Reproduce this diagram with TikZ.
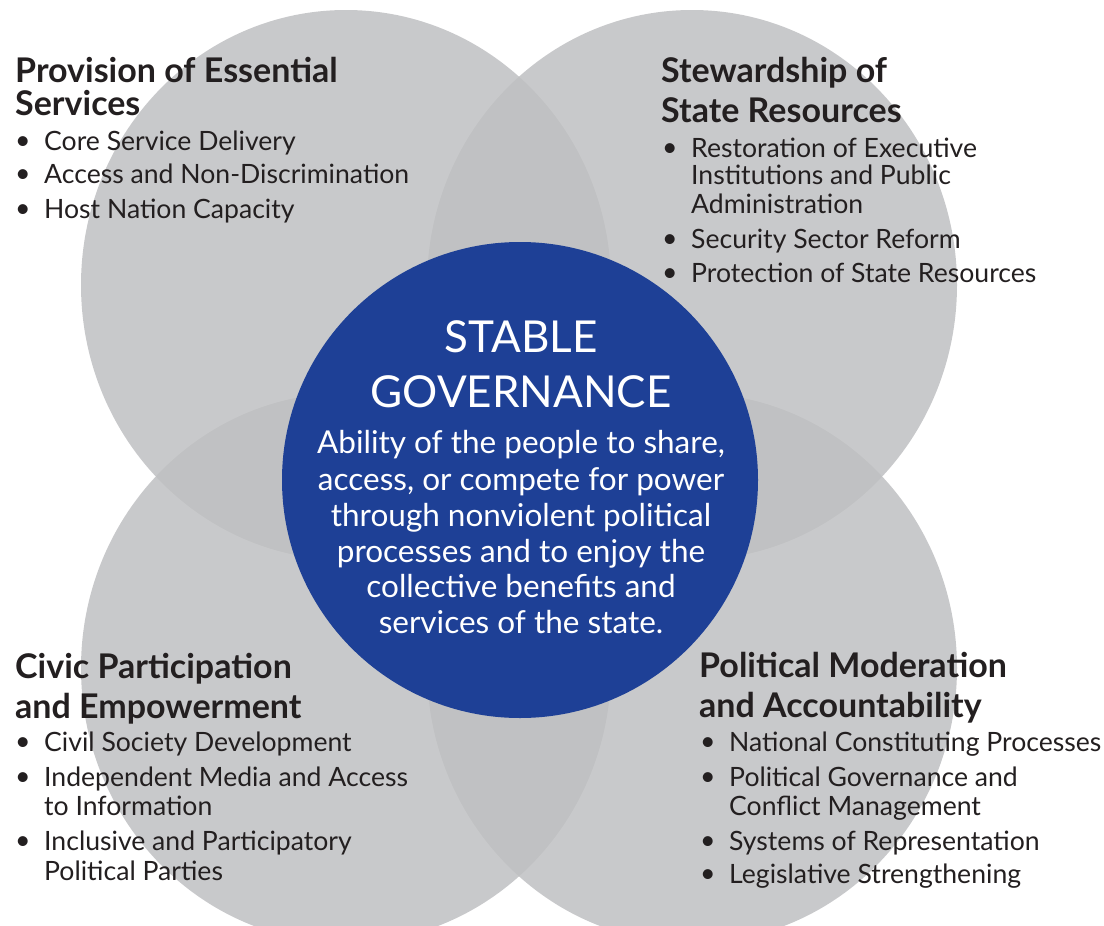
\documentclass[tikz,border=0pt]{standalone}
\usepackage{fontspec}
\setmainfont{Lato}
\definecolor{circgray}{RGB}{190,191,193}
\definecolor{govblue}{RGB}{30,64,150}
\definecolor{txt}{RGB}{35,31,32}
\tikzset{
  petal/.style={fill=circgray, fill opacity=0.84},
  core/.style={fill=govblue},
  head/.style={anchor=base west, inner sep=0pt, text=txt, font=\fontsize{34}{34}\selectfont\bfseries},
  item/.style={anchor=base west, inner sep=0pt, text=txt, font=\fontsize{26.6}{26.6}\selectfont},
  ctitle/.style={anchor=base, inner sep=0pt, text=white, font=\fontsize{44}{44}\selectfont},
  cbody/.style={anchor=base, inner sep=0pt, text=white, font=\fontsize{31.5}{31.5}\selectfont}
}
\newcommand{\bul}[1]{\makebox[29pt][l]{\raisebox{0.5pt}{•}}#1}
\begin{document}
\begin{tikzpicture}[x=1pt,y=-1pt]
\useasboundingbox (0,0) rectangle (1104,926);
% petals
\fill[petal] (346,285) ellipse [x radius=265pt, y radius=275pt];
\fill[petal] (692,285) ellipse [x radius=265pt, y radius=275pt];
\fill[petal] (346,668) ellipse [x radius=265pt, y radius=275pt];
\fill[petal] (692,668) ellipse [x radius=265pt, y radius=275pt];
% core
\fill[core] (520,480) circle [radius=238pt];
% top left
\node[head] (tlh1) at (15,82) {Provision of Essential};
\node[head] (tlh2) at (15,115) {Services};
\node[item] (tl1) at (15,150) {\bul{Core Service Delivery}};
\node[item] (tl2) at (15,183) {\bul{Access and Non-Discrimination}};
\node[item] (tl3) at (15,218) {\bul{Host Nation Capacity}};
% top right
\node[head] (trh1) at (661,82) {Stewardship of};
\node[head] (trh2) at (661,122) {State Resources};
\node[item] (tr1) at (662,157) {\bul{Restoration of Executive}};
\node[item] (tr1b) at (691,184) {Institutions and Public};
\node[item] (tr1c) at (691,213) {Administration};
\node[item] (tr2) at (662,248) {\bul{Security Sector Reform}};
\node[item] (tr3) at (662,282) {\bul{Protection of State Resources}};
% bottom left
\node[head] (blh1) at (15,678) {Civic Participation};
\node[head] (blh2) at (15,718) {and Empowerment};
\node[item] (bl1) at (15,751) {\bul{Civil Society Development}};
\node[item] (bl2) at (15,786) {\bul{Independent Media and Access}};
\node[item] (bl2b) at (44,815) {to Information};
\node[item] (bl3) at (15,850) {\bul{Inclusive and Participatory}};
\node[item] (bl3b) at (44,880) {Political Parties};
% bottom right
\node[head] (brh1) at (699,677) {Political Moderation};
\node[head] (brh2) at (699,717) {and Accountability};
\node[item] (br1) at (700,751) {\bul{National Constituting Processes}};
\node[item] (br2) at (700,786) {\bul{Political Governance and}};
\node[item] (br2b) at (729,815) {Conflict Management};
\node[item] (br3) at (700,850) {\bul{Systems of Representation}};
\node[item] (br4) at (700,883) {\bul{Legislative Strengthening}};
% centre
\node[ctitle] (t1) at (521,352) {STABLE};
\node[ctitle] (t2) at (521,407) {GOVERNANCE};
\node[cbody] (c1) at (521,453) {Ability of the people to share,};
\node[cbody] (c2) at (521,490) {access, or compete for power};
\node[cbody] (c3) at (521,526) {through nonviolent political};
\node[cbody] (c4) at (521,562) {processes and to enjoy the};
\node[cbody] (c5) at (521,597) {collective benefits and};
\node[cbody] (c6) at (521,633) {services of the state.};
\end{tikzpicture}
\end{document}
